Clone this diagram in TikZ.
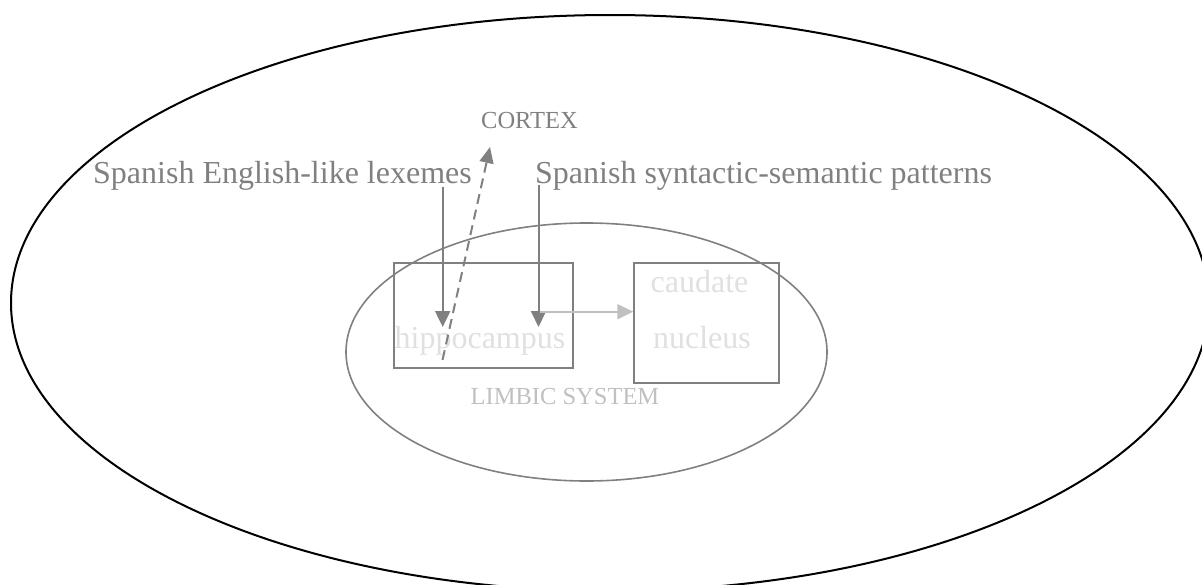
\documentclass[tikz,border=0pt]{standalone}
\usepackage{fontspec}
\setmainfont{Liberation Serif}
\usetikzlibrary{arrows.meta}
\definecolor{midgray}{HTML}{808080}
\definecolor{lightgray2}{HTML}{C0C0C0}
\definecolor{palegray}{HTML}{E0E0E0}
\tikzset{
  bigtext/.style={inner sep=0pt, font=\fontsize{32}{37}\selectfont},
  smalltext/.style={inner sep=0pt, font=\fontsize{24.5}{29}\selectfont},
  regionbox/.style={draw=midgray, line width=2pt, rectangle, inner sep=0pt},
  flow/.style={draw=midgray, line width=2pt, -{Triangle[length=16pt,width=15pt]}},
  cortexflow/.style={draw=midgray, line width=2pt, dash pattern=on 10pt off 6pt, -{Triangle[length=16pt,width=14pt]}},
  innerflow/.style={draw=lightgray2, line width=2pt, -{Triangle[length=16pt,width=15pt]}}
}
\begin{document}
\begin{tikzpicture}[x=1pt,y=-1pt]
\useasboundingbox (0,0) rectangle (1202,584);
\clip (0,0) rectangle (1202,584);
% outer cortex ellipse
\draw[black, line width=2pt] (610,303) ellipse [x radius=599, y radius=288];
% limbic system ellipse
\draw[midgray, line width=1.6pt] (586.5,352) ellipse [x radius=240.5, y radius=129];
% boxes
\node[regionbox, minimum width=178.4pt, minimum height=105.6pt] (hipbox) at (483.5,315.5) {};
\node[regionbox, minimum width=145pt, minimum height=120.6pt] (caubox) at (706.8,323) {};
% texts
\node[smalltext, text=midgray, anchor=base west] (cortex) at (481,128) {CORTEX};
\node[bigtext, text=midgray, anchor=base west] (lex) at (93,183) {Spanish English-like lexemes};
\node[bigtext, text=midgray, anchor=base west] (pat) at (535,183) {Spanish syntactic-semantic patterns};
\node[bigtext, text=palegray, anchor=base] (hip) at (480,348) {hippocampus};
\node[bigtext, text=palegray, anchor=base] (cau1) at (699.5,292.7) {caudate};
\node[bigtext, text=palegray, anchor=base] (cau2) at (702,348.3) {nucleus};
\node[smalltext, text=lightgray2, anchor=base] (limbic) at (565,404) {LIMBIC SYSTEM};
% connector endpoints
\coordinate (lexstart) at (442.7,187);
\coordinate (lexend) at (442.7,327);
\coordinate (patstart) at (538.5,185);
\coordinate (patend) at (538.5,327);
\coordinate (cortstart) at (442.5,360);
\coordinate (cortend) at (490,147);
\coordinate (hipout) at (540,311.7);
% connectors
\draw[flow] (lexstart) -- (lexend);
\draw[flow] (patstart) -- (patend);
\draw[cortexflow] (cortstart) -- (cortend);
\draw[innerflow] (hipout) -- (hipout -| caubox.west);
\end{tikzpicture}
\end{document}
